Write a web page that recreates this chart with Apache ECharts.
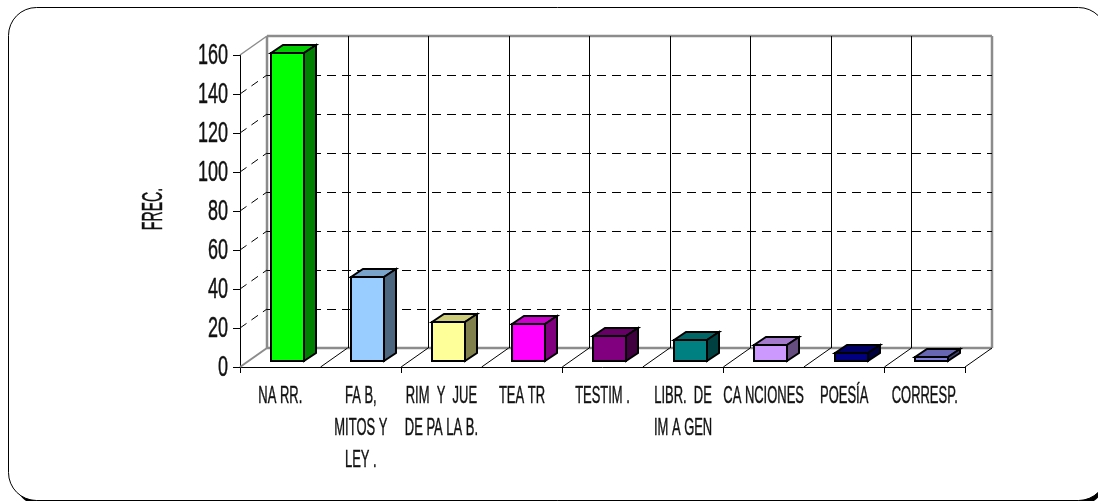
<!DOCTYPE html>
<html><head><meta charset="utf-8">
<style>html,body{margin:0;padding:0;background:#fff;overflow:hidden}#c{width:1098px;height:501px}</style>
<script src="https://cdn.jsdelivr.net/npm/echarts@6/dist/echarts.min.js"></script>
</head><body><div id="c"></div>
<script>
const categories = ['NA RR.', 'FA B,\nMITOS Y\nLEY .', 'RIM  Y  JUE\nDE PA LA B.', 'TEA TR', 'TESTIM .', 'LIBR.  DE\nIM A GEN', 'CA NCIONES', 'POESÍA', 'CORRESP.'];
const frec = [158, 43, 20, 19, 13, 11, 8, 4, 2];
const yTicks = [0, 20, 40, 60, 80, 100, 120, 140, 160];
const yAxisTitle = 'FREC.';
const barColors = ['#00ff00', '#99ccff', '#ffff99', '#ff00ff', '#800080', '#008080', '#cc99ff', '#000080', '#8080e0'];

const FONT = '"Liberation Sans",Arimo,sans-serif';
const WALL = [27, -19], BAR_D = [12, -8], BAR_SHIFT = [7, -6], BAR_W = 33;
const GRAY = '#8c8c8c';
const TEXT = '#111';
const textLook = {fill: TEXT, stroke: TEXT, lineWidth: 0.45};

function shade(hex, f) {
  const n = parseInt(hex.slice(1), 16);
  const c = [n >> 16, (n >> 8) & 255, n & 255].map(v => Math.round(v * f));
  return 'rgb(' + c.join(',') + ')';
}
const crisp = v => Math.round(v) + 0.5;
const line = (x1, y1, x2, y2, stroke, lineWidth, lineDash) => ({
  type: 'line', shape: {x1, y1, x2, y2},
  style: {stroke, lineWidth, lineDash, fill: null}
});

const chart = echarts.init(document.getElementById('c'));
chart.setOption({
  animation: false,
  backgroundColor: '#fff',
  graphic: [
    {type: 'rect', z: -10, shape: {x: 14, y: 13, width: 1092, height: 493, r: 28}, style: {fill: '#000'}},
    {type: 'rect', z: -9, shape: {x: 8.5, y: 7.5, width: 1098, height: 493, r: 28}, style: {fill: '#fff', stroke: '#000', lineWidth: 1}}
  ],
  grid: {left: 240, right: 133, top: 55, bottom: 134},
  xAxis: {
    type: 'category', data: categories,
    axisLine: {lineStyle: {color: '#000', width: 1}},
    axisTick: {show: true, length: 6, lineStyle: {color: '#000'}},
    axisLabel: {show: false}
  },
  yAxis: {
    type: 'value', min: 0, max: 160, interval: 20,
    axisLine: {show: true, lineStyle: {color: '#000', width: 1}},
    axisTick: {show: true, length: 7, lineStyle: {color: '#000'}},
    axisLabel: {show: false},
    splitLine: {show: false}
  },
  series: [
    { // walls and floor outline
      type: 'custom', coordinateSystem: 'cartesian2d', clip: false, z: 1, silent: true,
      data: [[0, 0]],
      renderItem(params, api) {
        const band = api.size([1, 0])[0];
        const o = api.coord([0, 0]), t = api.coord([0, 160]);
        const x0 = o[0] - band / 2, y0 = o[1], yT = t[1];
        const x1 = x0 + band * categories.length;
        const bx0 = x0 + WALL[0], bx1 = x1 + WALL[0], by0 = y0 + WALL[1], byT = yT + WALL[1];
        return {type: 'group', children: [
          line(bx0, by0, bx1, by0, GRAY, 2.5),
          line(bx0, byT, bx1, byT, GRAY, 2.5),
          line(bx0, byT, bx0, by0, GRAY, 2.5),
          line(bx1, byT, bx1, by0, GRAY, 2.5),
          line(x0, yT, bx0, byT, GRAY, 1.5),
          line(x0, y0, bx0, by0, GRAY, 2),
          line(x1, y0, bx1, by0, '#000', 1)
        ]};
      }
    },
    { // dashed wall gridlines (inner ticks) and y tick labels
      type: 'custom', coordinateSystem: 'cartesian2d', clip: false, z: 2, silent: true,
      data: yTicks.map(v => [0, v]),
      renderItem(params, api) {
        const band = api.size([1, 0])[0];
        const v = api.value(1);
        const p = api.coord([0, v]);
        const x0 = p[0] - band / 2, y = p[1];
        const x1 = x0 + band * categories.length;
        const kids = [{
          type: 'text', x: x0 - 12, y: y + 0.5, scaleX: 0.62,
          style: Object.assign({text: String(v), font: '29px ' + FONT, align: 'right', verticalAlign: 'middle'}, textLook)
        }];
        if (v > 0 && v < 160) {
          const gy = crisp(y + WALL[1]);
          kids.push(line(x0, y, x0 + WALL[0], y + WALL[1], '#000', 1, [8, 6]));
          kids.push(line(x0 + WALL[0], gy, x1 + WALL[0], gy, '#000', 1, [9, 6]));
        }
        return {type: 'group', children: kids};
      }
    },
    { // category dividers on wall and floor
      type: 'custom', coordinateSystem: 'cartesian2d', clip: false, z: 3, silent: true,
      data: categories.slice(0, -1).map((c, i) => [i, 0]),
      renderItem(params, api) {
        const band = api.size([1, 0])[0];
        const o = api.coord([api.value(0), 0]), t = api.coord([api.value(0), 160]);
        const x = o[0] + band / 2;
        const vx = crisp(x + WALL[0]);
        return {type: 'group', children: [
          line(x, o[1], x + WALL[0], o[1] + WALL[1], '#000', 1),
          line(vx, o[1] + WALL[1], vx, t[1] + WALL[1], '#000', 1)
        ]};
      }
    },
    { // 3-D bars
      type: 'custom', coordinateSystem: 'cartesian2d', clip: false, z: 5,
      data: frec.map((v, i) => [i, v]),
      renderItem(params, api) {
        const i = api.value(0);
        const base = api.coord([i, 0]), top = api.coord([i, api.value(1)]);
        const l = Math.round(base[0] + BAR_SHIFT[0] - BAR_W / 2), r = l + BAR_W;
        const b = base[1] + BAR_SHIFT[1], t = Math.round(top[1] + BAR_SHIFT[1]);
        const dx = BAR_D[0], dy = BAR_D[1], col = barColors[i];
        const style = fill => ({fill, stroke: '#000', lineWidth: 2, lineJoin: 'miter'});
        return {type: 'group', children: [
          {type: 'polygon', shape: {points: [[l, t], [l + dx, t + dy], [r + dx, t + dy], [r, t]]}, style: style(shade(col, 0.8))},
          {type: 'polygon', shape: {points: [[r, t], [r + dx, t + dy], [r + dx, b + dy], [r, b]]}, style: style(shade(col, 0.5))},
          {type: 'rect', shape: {x: l, y: t, width: BAR_W, height: b - t}, style: style(col)}
        ]};
      }
    },
    { // category labels, squeezed to the tall condensed look of the original
      type: 'custom', coordinateSystem: 'cartesian2d', clip: false, z: 6, silent: true,
      data: categories.map((c, i) => [i, 0]),
      renderItem(params, api) {
        const i = api.value(0);
        const p = api.coord([i, 0]);
        return {
          type: 'text', x: p[0], y: p[1] + 13, scaleX: 0.54,
          style: Object.assign({text: categories[i], font: '24px ' + FONT, lineHeight: 32, align: 'center', verticalAlign: 'top'}, textLook)
        };
      }
    },
    { // y axis title
      type: 'custom', coordinateSystem: 'cartesian2d', clip: false, z: 6, silent: true,
      data: [[0, 80]],
      renderItem(params, api) {
        const band = api.size([1, 0])[0];
        const p = api.coord([0, api.value(1)]);
        return {
          type: 'text', x: p[0] - band / 2 - 86, y: p[1] - 2, rotation: Math.PI / 2, scaleX: 0.47,
          style: Object.assign({text: yAxisTitle, font: '30px ' + FONT, align: 'center', verticalAlign: 'middle'}, textLook)
        };
      }
    }
  ]
});
</script></body></html>
